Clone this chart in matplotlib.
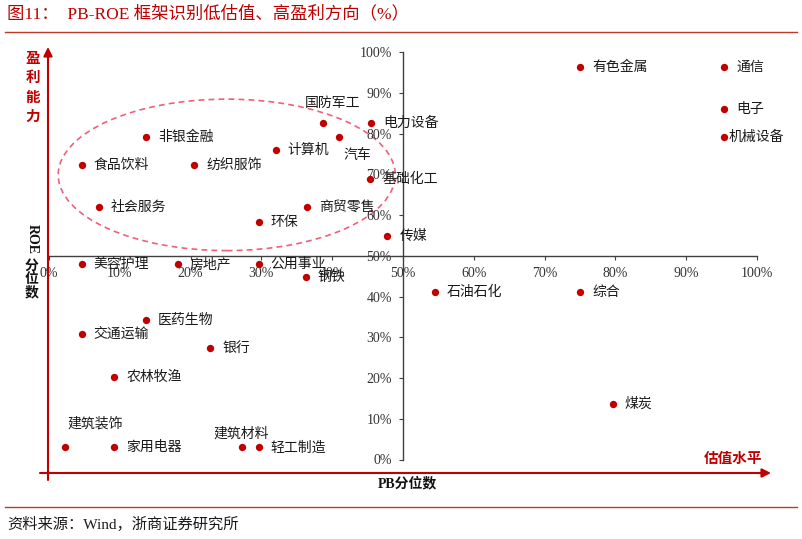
import matplotlib
matplotlib.use("Agg")
import matplotlib.pyplot as plt
from matplotlib.patches import Ellipse
from matplotlib.lines import Line2D
from matplotlib.ticker import FuncFormatter, MultipleLocator

plt.rcParams['font.family'] = ['Liberation Serif', 'Noto Sans CJK SC', 'DejaVu Sans']

industries = ['非银金融', '食品饮料', '纺织服饰', '计算机', '国防军工', '汽车', '电力设备', '基础化工',
              '商贸零售', '社会服务', '环保', '传媒', '美容护理', '房地产', '公用事业', '钢铁',
              '医药生物', '交通运输', '银行', '农林牧渔', '建筑装饰', '家用电器', '建筑材料', '轻工制造',
              '有色金属', '通信', '电子', '机械设备', '石油石化', '综合', '煤炭']
pb_pct = [13.7, 4.6, 20.5, 32.0, 38.7, 41.0, 45.5, 45.4,
          36.4, 7.0, 29.6, 47.8, 4.6, 18.2, 29.6, 36.3,
          13.7, 4.6, 22.8, 9.2, 2.3, 9.2, 27.3, 29.6,
          75.0, 95.4, 95.4, 95.4, 54.5, 75.0, 79.6]
roe_pct = [79.3, 72.4, 72.4, 75.9, 82.6, 79.3, 82.6, 68.9,
           62.0, 62.0, 58.4, 54.9, 48.0, 48.0, 48.0, 44.7,
           34.3, 30.8, 27.3, 20.3, 3.0, 3.0, 3.0, 3.0,
           96.5, 96.5, 86.1, 79.3, 41.2, 41.2, 13.6]

# label offsets in pixels (dx, dy, ha); default right of the dot
special = {'国防军工': (10, 20, 'center'), '汽车': (4, -18, 'left'),
           '建筑装饰': (2, 24, 'left'), '建筑材料': (-29, 14, 'left'),
           '机械设备': (4, 0, 'left')}

W, H = 802, 539
fig = plt.figure(figsize=(W / 100, H / 100), dpi=100)

def fx(x):
    return x / W

def fy(y):
    return 1 - y / H

ax = fig.add_axes([49 / W, (H - 459.5) / H, 708 / W, 407.2 / H])
ax.set_xlim(0, 100)
ax.set_ylim(0, 100)
for s in ['top', 'right']:
    ax.spines[s].set_visible(False)
ax.spines['left'].set_position(('data', 50))
ax.spines['bottom'].set_position(('data', 50))
for s in ['left', 'bottom']:
    ax.spines[s].set_color('#404040')
    ax.spines[s].set_linewidth(1.0)
ax.xaxis.set_major_locator(MultipleLocator(10))
ax.yaxis.set_major_locator(MultipleLocator(10))
fmt = FuncFormatter(lambda v, p: f'{int(round(v))}%')
ax.xaxis.set_major_formatter(fmt)
ax.yaxis.set_major_formatter(fmt)
ax.tick_params(axis='both', direction='out', length=3, width=0.8, color='#404040',
               labelsize=10, labelcolor='#333333', pad=5)
ax.patch.set_alpha(0)

ell = Ellipse((25.1, 69.9), 47.6, 37.2, fill=False, edgecolor='#F0607A',
              lw=1.2, ls=(0, (3.5, 2.5)), zorder=1)
ax.add_patch(ell)

ax.scatter(pb_pct, roe_pct, s=28, color='#C00000', zorder=3, linewidths=0)

for name, x, y in zip(industries, pb_pct, roe_pct):
    dx, dy, ha = special.get(name, (12, 0, 'left'))
    ax.annotate(name, (x, y), xytext=(dx, dy), textcoords='offset pixels',
                ha=ha, va='center', fontsize=10, color='#1a1a1a',
                family=['Noto Sans CJK SC', 'DejaVu Sans'], zorder=4)

red = '#C00000'
# outer arrows
ax.annotate('', xy=(48, H - 47), xytext=(48, H - 480), xycoords='figure pixels',
            textcoords='figure pixels', annotation_clip=False,
            arrowprops=dict(arrowstyle='-|>', color=red, lw=1.5, mutation_scale=13,
                            shrinkA=0, shrinkB=0))
ax.annotate('', xy=(771, H - 473), xytext=(40, H - 473), xycoords='figure pixels',
            textcoords='figure pixels', annotation_clip=False,
            arrowprops=dict(arrowstyle='-|>', color=red, lw=1.5, mutation_scale=13,
                            shrinkA=0, shrinkB=0))

# title and lines
fig.text(fx(7), fy(14), '图11：  PB-ROE 框架识别低估值、高盈利方向（%）', fontsize=12.5,
         color=red, va='center', ha='left')
fig.add_artist(Line2D([fx(5), fx(797)], [fy(32), fy(32)], color='#C0392B', lw=1.0))
fig.add_artist(Line2D([fx(5), fx(797)], [fy(507), fy(507)], color='#C0392B', lw=1.0))
fig.text(fx(7), fy(524), '资料来源：Wind，浙商证券研究所', fontsize=11, color='#1a1a1a',
         va='center', ha='left')

# axis captions
fig.text(fx(33), fy(87), '盈\n利\n能\n力', fontsize=10.5, color=red, fontweight='bold',
         ha='center', va='center', linespacing=1.25, family=['Noto Sans CJK SC'])
fig.text(fx(733), fy(458), '估值水平', fontsize=10.5, color=red, fontweight='bold',
         ha='center', va='center', family=['Noto Sans CJK SC'])
fig.text(fx(32), fy(239), 'ROE', fontsize=10, color='#111111', fontweight='bold',
         ha='center', va='center', rotation=-90)
fig.text(fx(32), fy(279), '分\n位\n数', fontsize=10, color='#111111', fontweight='bold',
         ha='center', va='center', linespacing=0.95, family=['Noto Sans CJK SC'])
fig.text(fx(407), fy(483), 'PB分位数', fontsize=10, color='#111111', fontweight='bold',
         ha='center', va='center')

fig.savefig('out.png', dpi=100)
